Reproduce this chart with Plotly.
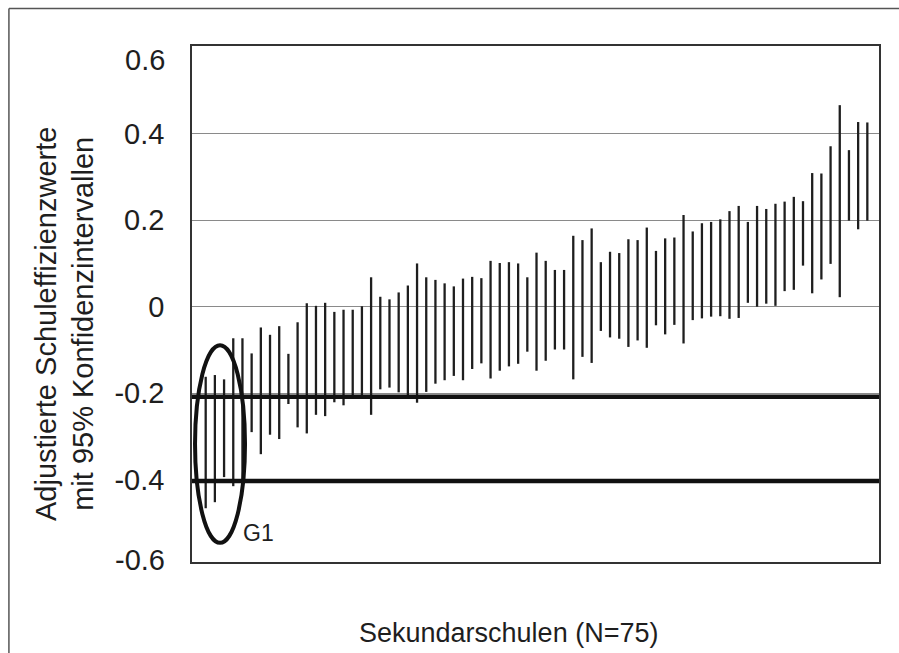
import plotly.graph_objects as go

# ---- data (sorted school efficiency CIs) ----
schools = list(range(1, 74))
ci_upper = [-0.162, -0.158, -0.168, -0.073, -0.073, -0.108, -0.048, -0.065, -0.045, -0.109,
            -0.036, 0.008, 0.002, 0.009, -0.012, -0.007, -0.007, 0.001, 0.068, 0.023,
            0.017, 0.033, 0.049, 0.100, 0.068, 0.062, 0.054, 0.047, 0.065, 0.069,
            0.066, 0.106, 0.101, 0.103, 0.100, 0.068, 0.125, 0.106, 0.085, 0.085,
            0.164, 0.154, 0.181, 0.103, 0.127, 0.124, 0.156, 0.154, 0.183, 0.129,
            0.158, 0.160, 0.212, 0.174, 0.193, 0.196, 0.202, 0.221, 0.233, 0.196,
            0.233, 0.226, 0.238, 0.243, 0.254, 0.244, 0.309, 0.308, 0.371, 0.466,
            0.362, 0.427, 0.426]
ci_lower = [-0.466, -0.452, -0.394, -0.415, -0.420, -0.290, -0.341, -0.296, -0.306, -0.225,
            -0.279, -0.293, -0.250, -0.253, -0.221, -0.228, -0.213, -0.213, -0.250, -0.191,
            -0.187, -0.198, -0.206, -0.222, -0.197, -0.178, -0.170, -0.160, -0.170, -0.144,
            -0.131, -0.166, -0.148, -0.138, -0.132, -0.104, -0.148, -0.125, -0.099, -0.099,
            -0.168, -0.116, -0.130, -0.056, -0.071, -0.074, -0.093, -0.078, -0.095, -0.043,
            -0.064, -0.042, -0.085, -0.031, -0.027, -0.023, -0.022, -0.028, -0.026, 0.009,
            0.000, 0.007, 0.002, 0.036, 0.039, 0.095, 0.031, 0.063, 0.099, 0.022,
            0.199, 0.179, 0.199]
thresholds = [-0.208, -0.403]
y_ticks = [-0.4, -0.2, 0, 0.2, 0.4]
y_ticktext = ["-0.4", "-0.2", "0", "0.2", "0.4"]
group_label = "G1"
group_x = [-0.16, 5.28]
group_y = [-0.546, -0.089]

FONT = "Liberation Sans, Arial, sans-serif"
TXT = "#1e1e1e"

xs, ys = [], []
for s, lo, hi in zip(schools, ci_lower, ci_upper):
    xs += [s, s, None]
    ys += [lo, hi, None]

fig = go.Figure()
fig.add_trace(go.Scatter(x=xs, y=ys, mode="lines",
                         line=dict(color="#1e1e1e", width=2.3),
                         hoverinfo="skip", showlegend=False))

shapes = []
for t in thresholds:
    shapes.append(dict(type="line", xref="paper", yref="y", x0=0, x1=1, y0=t, y1=t,
                       line=dict(color="#111111", width=4.5), layer="above"))
shapes.append(dict(type="circle", xref="x", yref="y",
                   x0=group_x[0], x1=group_x[1], y0=group_y[0], y1=group_y[1],
                   line=dict(color="#111111", width=4), layer="above"))
# outer frame: only top and left edges are visible in the reference
shapes.append(dict(type="line", xref="paper", yref="paper",
                   x0=-0.2665, x1=1.3, y0=1.0725, y1=1.0725,
                   line=dict(color="#555555", width=1.5), layer="above"))
shapes.append(dict(type="line", xref="paper", yref="paper",
                   x0=-0.2665, x1=-0.2665, y0=-0.4, y1=1.0725,
                   line=dict(color="#555555", width=1.5), layer="above"))

annotations = [
    dict(text=group_label, xref="x", yref="y", x=6.7, y=-0.523, xanchor="center",
         yanchor="middle", showarrow=False, font=dict(family=FONT, size=23, color=TXT)),
    dict(text="0.6", xref="paper", yref="paper", x=-0.036, y=0.9729, xanchor="right",
         yanchor="middle", showarrow=False, font=dict(family=FONT, size=29, color=TXT)),
    dict(text="-0.6", xref="paper", yref="paper", x=-0.036, y=0.0039, xanchor="right",
         yanchor="middle", showarrow=False, font=dict(family=FONT, size=29, color=TXT)),
    dict(text="Sekundarschulen (N=75)", xref="paper", yref="paper", x=0.4614, y=-0.137,
         xanchor="center", yanchor="middle", showarrow=False,
         font=dict(family=FONT, size=27, color=TXT)),
    dict(text="Adjustierte Schuleffizienzwerte<br>mit 95% Konfidenzintervallen",
         xref="paper", yref="paper", x=-0.185, y=0.461, xanchor="center", yanchor="middle",
         textangle=-90, showarrow=False, font=dict(family=FONT, size=29, color=TXT)),
]

fig.update_layout(
    width=899, height=653,
    margin=dict(l=192, r=20, t=46, b=91),
    paper_bgcolor="white", plot_bgcolor="white",
    font=dict(family=FONT, color=TXT),
    shapes=shapes, annotations=annotations,
    showlegend=False,
)
fig.update_xaxes(range=[-0.49, 74.27], showticklabels=False, ticks="",
                 showgrid=False, zeroline=False,
                 showline=True, mirror=True, linecolor="#333333", linewidth=1.5)
fig.update_yaxes(range=[-0.5903, 0.6028], tickvals=y_ticks, ticktext=y_ticktext,
                 ticks="", ticklabelstandoff=20,
                 tickfont=dict(family=FONT, size=29, color=TXT),
                 showgrid=True, gridcolor="#8a8a8a", gridwidth=1, zeroline=False,
                 showline=True, mirror=True, linecolor="#333333", linewidth=1.5)

fig.write_html("out.html", config={"displayModeBar": False},
               post_script=("document.documentElement.style.overflow='hidden';"
                            "document.body.style.margin='0';"
                            "document.body.style.overflow='hidden';"))
